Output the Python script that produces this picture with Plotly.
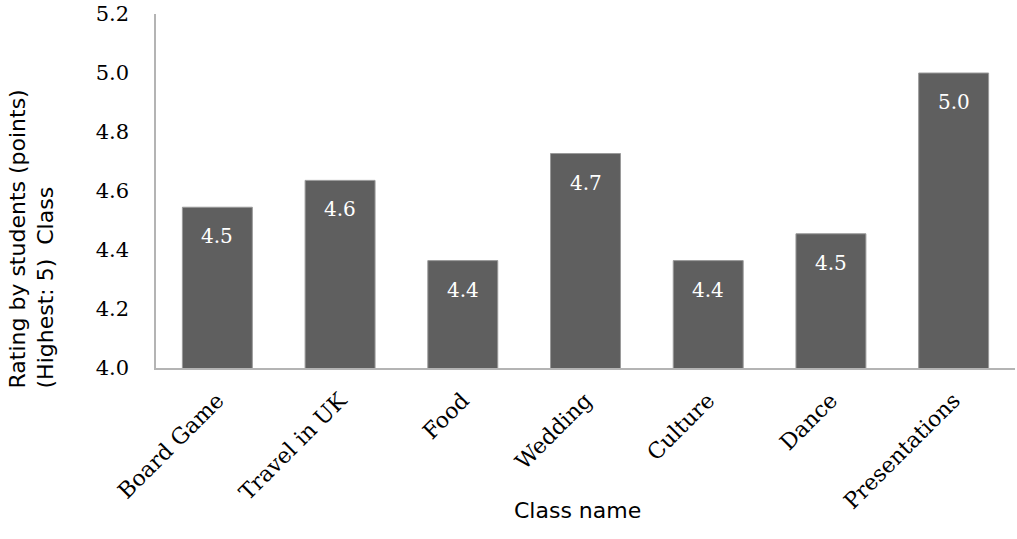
import plotly.graph_objects as go

categories = ["Board Game", "Travel in UK", "Food", "Wedding", "Culture", "Dance", "Presentations"]
ratings = [4.545, 4.636, 4.364, 4.727, 4.364, 4.455, 5.0]
y_ticks = [4.0, 4.2, 4.4, 4.6, 4.8, 5.0, 5.2]
y_title_lines = ["Rating by students (points)", "(Highest: 5)&nbsp;&nbsp;Class"]
x_title = "Class name"

SERIF = "DejaVu Serif"
SANS = "DejaVu Sans"

fig = go.Figure()
fig.add_trace(go.Bar(
    x=categories, y=ratings, base=0,
    marker=dict(color="#5f5f5f", line=dict(color="#9a9a9a", width=1)),
    width=0.57, hoverinfo="skip",
))

for c, v in zip(categories, ratings):
    fig.add_annotation(x=c, y=v, yshift=-29, text=f"{v:.1f}", showarrow=False,
                       font=dict(family=SERIF, size=20, color="white"),
                       xanchor="center", yanchor="middle")

W0, W1, H0, H1 = 156, 1015, 14, 368
pw, ph = W1 - W0, H1 - H0

fig.add_annotation(xref="paper", yref="paper",
                   x=(31 - W0) / pw, y=(H1 - 390) / ph,
                   text="<br>".join(y_title_lines), textangle=-90, align="left",
                   showarrow=False, xanchor="center", yanchor="bottom",
                   font=dict(family=SANS, size=22, color="black"))
fig.add_annotation(xref="paper", yref="paper",
                   x=(577 - W0) / pw, y=(H1 - 510) / ph,
                   text=x_title, showarrow=False, xanchor="center", yanchor="middle",
                   font=dict(family=SANS, size=22, color="black"))

fig.update_layout(
    width=1017, height=539,
    margin=dict(l=W0, r=1017 - W1, t=H0, b=539 - H1),
    paper_bgcolor="white", plot_bgcolor="white",
    showlegend=False,
    xaxis=dict(showline=True, linecolor="#b4b4b4", linewidth=1.5, showgrid=False,
               tickangle=-45, tickfont=dict(family=SERIF, size=22, color="black"),
               ticks="", ticklabelstandoff=9),
    yaxis=dict(range=[4.0, 5.2], tickvals=y_ticks, ticktext=[f"{t:.1f}" for t in y_ticks],
               showline=True, linecolor="#b4b4b4", linewidth=1.5, showgrid=False,
               zeroline=False, ticks="", ticklabelstandoff=21,
               tickfont=dict(family=SERIF, size=21, color="black")),
)

fig.write_html("out.html")
